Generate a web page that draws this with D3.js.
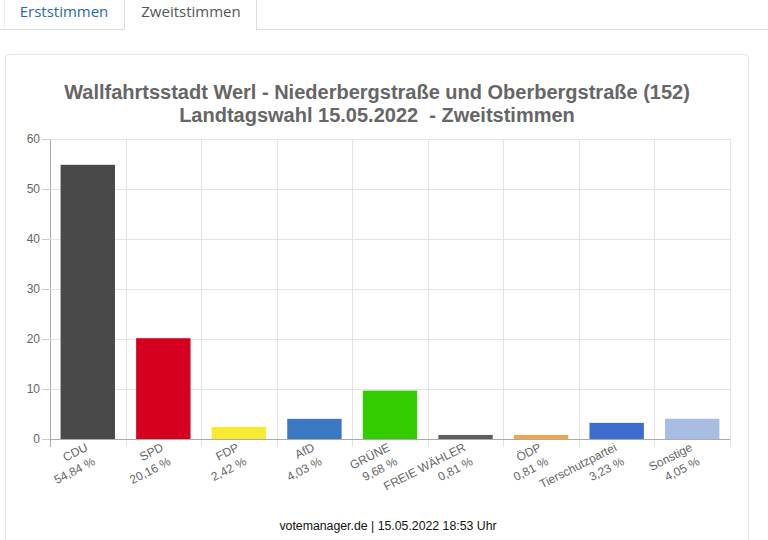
<!DOCTYPE html>
<html>
<head>
<meta charset="utf-8">
<script src="https://cdn.jsdelivr.net/npm/d3@7"></script>
<style>
  html, body { margin: 0; padding: 0; background: #fff; }
  svg { display: block; }
  text { font-family: "Liberation Sans", Arial, sans-serif; }
</style>
</head>
<body>
<svg id="chart" width="768" height="540"></svg>
<script>
const categories = ["CDU", "SPD", "FDP", "AfD", "GRÜNE", "FREIE WÄHLER", "ÖDP", "Tierschutzpartei", "Sonstige"];
const values = [54.84, 20.16, 2.42, 4.03, 9.68, 0.81, 0.81, 3.23, 4.05];
const valueLabels = ["54,84 %", "20,16 %", "2,42 %", "4,03 %", "9,68 %", "0,81 %", "0,81 %", "3,23 %", "4,05 %"];
const colors = ["#494949", "#d5001f", "#f8ea30", "#3a78c2", "#33cc00", "#5e5e5e", "#eda64c", "#3d6ccf", "#a8bde4"];
const yTicks = [0, 10, 20, 30, 40, 50, 60];
const titleLines = ["Wallfahrtsstadt Werl - Niederbergstraße und Oberbergstraße (152)", "Landtagswahl 15.05.2022  - Zweitstimmen"];
const tabs = ["Erststimmen", "Zweitstimmen"];
const footer = "votemanager.de | 15.05.2022 18:53 Uhr";

(function () {
const svg = d3.select("#chart");

// Tabs
const tabG = svg.append("g");
tabG.append("line").attr("x1", 0).attr("x2", 124).attr("y1", 29.5).attr("y2", 29.5).attr("stroke", "#ddd");
tabG.append("line").attr("x1", 257).attr("x2", 768).attr("y1", 29.5).attr("y2", 29.5).attr("stroke", "#ddd");
tabG.append("line").attr("x1", 4.5).attr("x2", 4.5).attr("y1", 0).attr("y2", 29).attr("stroke", "#eee");
tabG.append("path").attr("d", "M124.5,30 V0 M256.5,0 V30").attr("stroke", "#ddd").attr("fill", "none");
tabG.append("text").attr("x", 64).attr("y", 17).attr("text-anchor", "middle")
  .style("font-family", "'Open Sans', sans-serif").style("font-size", "15px").attr("fill", "#2a6aa8").text(tabs[0]);
tabG.append("text").attr("x", 191).attr("y", 17).attr("text-anchor", "middle")
  .style("font-family", "'Open Sans', sans-serif").style("font-size", "15px").attr("fill", "#555").text(tabs[1]);

// Card
svg.append("rect").attr("x", 5.5).attr("y", 54.5).attr("width", 743).attr("height", 500)
  .attr("rx", 4).attr("fill", "#fff").attr("stroke", "#e2e2e2");

// Title
const title = svg.append("g");
titleLines.forEach((t, i) => {
  title.append("text").attr("x", 377).attr("y", 99 + i * 23).attr("text-anchor", "middle")
    .style("font-size", "20px").style("font-weight", "bold").style("white-space", "pre")
    .attr("fill", "#666").text(t);
});

// Scales
const pLeft = 50, pRight = 730, pTop = 139, pBottom = 439;
const x = d3.scaleBand().domain(categories).range([pLeft, pRight]).paddingInner(0).paddingOuter(0);
const y = d3.scaleLinear().domain([0, 60]).range([pBottom, pTop]);

// Grid
const grid = svg.append("g");
const boundaries = categories.map(c => x(c)).concat([pRight]);
boundaries.forEach((bx, i) => {
  grid.append("line").attr("x1", Math.round(bx) + 0.5).attr("x2", Math.round(bx) + 0.5)
    .attr("y1", pTop).attr("y2", pBottom + 8)
    .attr("stroke", i === 0 ? "#aaa" : "#e3e3e3");
});
yTicks.forEach(t => {
  grid.append("line").attr("x1", pLeft - 8).attr("x2", pRight)
    .attr("y1", Math.round(y(t)) + 0.5).attr("y2", Math.round(y(t)) + 0.5)
    .attr("stroke", t === 0 ? "#aaa" : "#e3e3e3");
  grid.append("text").attr("x", 40).attr("y", y(t)).attr("dy", "0.35em")
    .attr("text-anchor", "end").style("font-size", "12px").attr("fill", "#666").text(t);
});
svg.append("g").selectAll("line").data(yTicks).join("line")
  .attr("x1", pLeft - 8).attr("x2", pLeft)
  .attr("y1", d => Math.round(y(d)) + 0.5).attr("y2", d => Math.round(y(d)) + 0.5)
  .attr("stroke", "#ccc");

// Bars
const bw = x.bandwidth() * 0.72;
svg.append("g").selectAll("rect").data(values).join("rect")
  .attr("x", (d, i) => x(categories[i]) + (x.bandwidth() - bw) / 2)
  .attr("width", bw)
  .attr("y", d => y(d))
  .attr("height", d => y(0) - y(d))
  .attr("fill", (d, i) => colors[i]);

// x labels
const xl = svg.append("g");
categories.forEach((c, i) => {
  const cx = x(c) + x.bandwidth() / 2 + 1;
  const g = xl.append("g").attr("transform", `translate(${cx},${pBottom + 11}) rotate(-27)`);
  g.append("text").attr("x", 0).attr("y", 0).attr("text-anchor", "end")
    .style("font-size", "12px").attr("fill", "#666").text(c);
  g.append("text").attr("x", 0).attr("y", 16).attr("text-anchor", "end")
    .style("font-size", "12px").attr("fill", "#666").text(valueLabels[i]);
});

// Footer
svg.append("text").attr("x", 388).attr("y", 530).attr("text-anchor", "middle")
  .style("font-size", "12.3px").attr("fill", "#111").text(footer);
})();
</script>
</body>
</html>
